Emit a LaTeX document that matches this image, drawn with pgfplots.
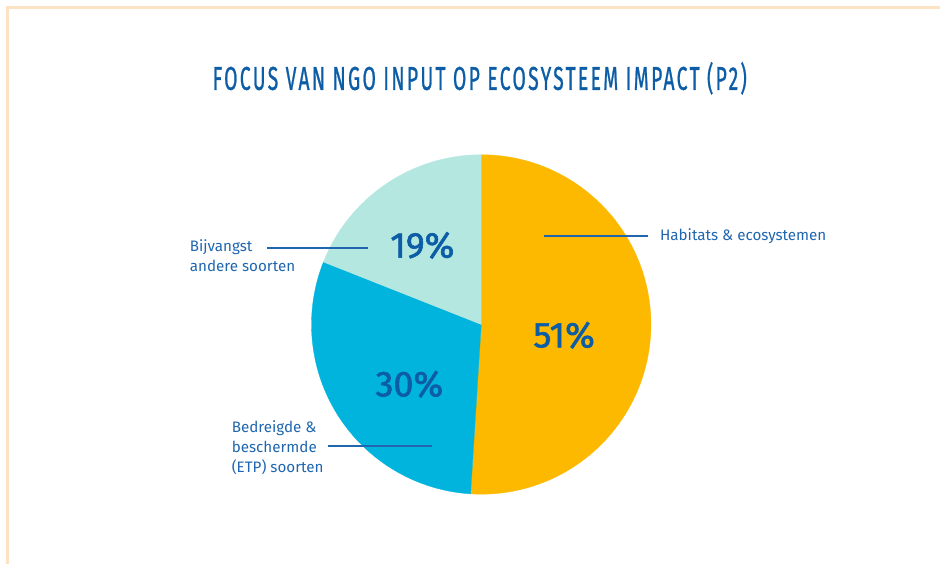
\documentclass[border=0pt]{standalone}
\usepackage{pgfplots}
\usepackage{pgfplotstable}
\usepackage{fontspec}
\setmainfont{Fira Sans}
\newfontfamily\medfont{Fira Sans}[BoldFont=*, BoldFeatures={FakeBold=1.6}]
\newfontfamily\titlefont{Fira Sans}[LetterSpace=12, BoldFont=*, BoldFeatures={FakeBold=1.2}]
\pgfplotsset{compat=1.18}

\definecolor{cOrange}{HTML}{FDB900}
\definecolor{cBlue}{HTML}{00B4DD}
\definecolor{cTeal}{HTML}{B3E7DF}
\definecolor{cText}{HTML}{1F66AF}
\definecolor{cPct}{HTML}{0C5DA6}
\definecolor{cFrame}{HTML}{FDE3C4}

\pgfplotstableread{
label value
Habitats 51
Bedreigde 30
Bijvangst 19
}\piedata

\begin{document}
\begin{tikzpicture}
\pgfplotstablegetelem{0}{value}\of\piedata \let\vA\pgfplotsretval
\pgfplotstablegetelem{1}{value}\of\piedata \let\vB\pgfplotsretval
\pgfplotstablegetelem{2}{value}\of\piedata \let\vC\pgfplotsretval
% slices run clockwise from 12 o'clock
\pgfmathsetmacro\aA{90}
\pgfmathsetmacro\aB{\aA-3.6*\vA}
\pgfmathsetmacro\aC{\aB-3.6*\vB}
\pgfmathsetmacro\aD{\aC-3.6*\vC}
\begin{axis}[
  x=1pt, y=1pt,
  xmin=0, xmax=941, ymin=0, ymax=565,
  hide axis,
  clip=false,
  anchor=origin, at={(0,0)}
]
\path (axis cs:0,0) rectangle (axis cs:941,565);
% frame
\draw[cFrame, line width=3pt] (axis cs:8,0) -- (axis cs:8,557.5) -- (axis cs:941,557.5);

% pie
\fill[cOrange, draw=cOrange, line width=0.3pt] (axis cs:482,240) -- ++(\aA:170pt)
  arc[start angle=\aA, end angle=\aB, radius=170pt] -- cycle;
\fill[cBlue, draw=cBlue, line width=0.3pt] (axis cs:482,240) -- ++(\aB:170pt)
  arc[start angle=\aB, end angle=\aC, radius=170pt] -- cycle;
\fill[cTeal, draw=cTeal, line width=0.3pt] (axis cs:482,240) -- ++(\aC:170pt)
  arc[start angle=\aC, end angle=\aD, radius=170pt] -- cycle;

% title
\node[anchor=base, text=cPct, inner sep=0pt] at (axis cs:480.5,475)
  {\resizebox{535pt}{\height}{\titlefont\fontsize{33}{33}\selectfont\bfseries FOCUS VAN NGO INPUT OP ECOSYSTEEM IMPACT (P2)}};

% percentages
\begin{scope}[every node/.style={anchor=base, text=cPct, inner sep=0pt, font=\medfont\fontsize{36}{36}\selectfont\bfseries}]
\node at (axis cs:565,217) {\vA\%};
\node at (axis cs:410,168) {\vB\%};
\node at (axis cs:423,307) {\vC\%};
\end{scope}

% leader lines
\draw[cText, line width=2pt] (axis cs:545,329) -- (axis cs:649,329);
\draw[cText, line width=2pt] (axis cs:267,317) -- (axis cs:369,317);
\draw[cText, line width=2pt] (axis cs:329,118) -- (axis cs:433,118);

% category labels
\begin{scope}[every node/.style={anchor=base west, text=cText, inner sep=0pt, font=\fontsize{15.2}{20}\selectfont}]
\node at (axis cs:661,324) {Habitats \& ecosystemen};
\node at (axis cs:190,313) {Bijvangst};
\node at (axis cs:190,293) {andere soorten};
\node at (axis cs:232,132) {Bedreigde \&};
\node at (axis cs:232,112) {beschermde};
\node at (axis cs:232,92) {(ETP) soorten};
\end{scope}
\end{axis}
\end{tikzpicture}
\end{document}
